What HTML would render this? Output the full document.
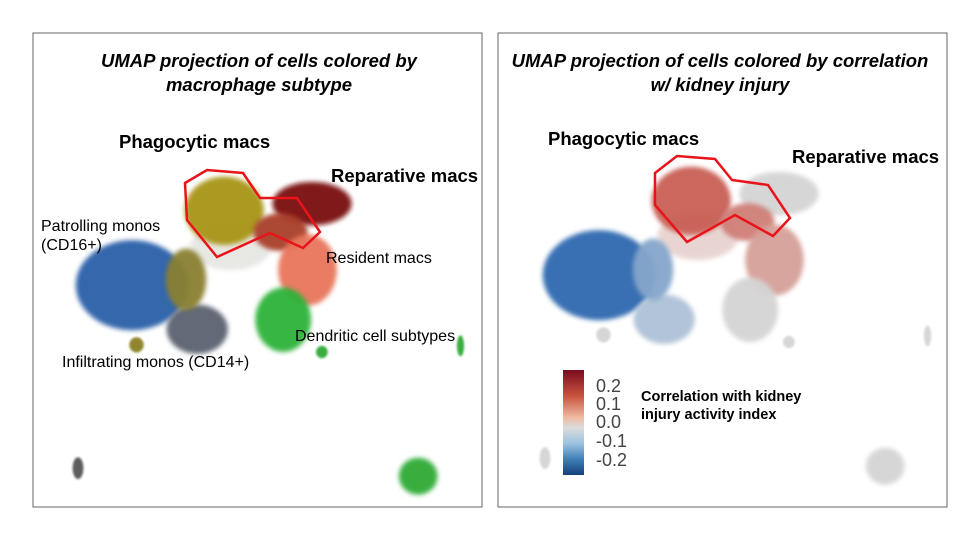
<!DOCTYPE html>
<html><head><meta charset="utf-8">
<style>
body{margin:0;background:#fff;width:960px;height:540px;overflow:hidden;font-family:"Liberation Sans",Arial,sans-serif}
svg{position:absolute;left:0;top:0}
</style></head>
<body>
<svg id="chart" width="960" height="540">
<defs>
<filter id="bl" x="-50%" y="-50%" width="200%" height="200%"><feGaussianBlur stdDeviation="2.5"/></filter>
<filter id="bl2" x="-50%" y="-50%" width="200%" height="200%"><feGaussianBlur stdDeviation="1"/></filter>
<linearGradient id="cb" x1="0" y1="0" x2="0" y2="1">
<stop offset="0" stop-color="#7a0c1e"/><stop offset="0.25" stop-color="#c9543f"/><stop offset="0.45" stop-color="#f0b9a0"/>
<stop offset="0.55" stop-color="#dcdcdc"/><stop offset="0.7" stop-color="#9cc3df"/><stop offset="0.85" stop-color="#3f7fb8"/><stop offset="1" stop-color="#163f78"/>
</linearGradient>
</defs>
<rect x="33" y="33" width="449" height="474" fill="#fff" stroke="#666" stroke-width="1"/>
<rect x="498" y="33" width="449" height="474" fill="#fff" stroke="#666" stroke-width="1"/>
<g id="left"></g>
<g id="right"></g>
<polygon points="185,183 207,170 243,173 260,198 297,198 320,232 303,248 270,233 217,257 187,220" fill="none" stroke="#e8141a" stroke-width="2.5"/>
<polygon points="655,173 677,156 715,159 732,180 768,185 790,218 773,236 735,215 687,242 655,205" fill="none" stroke="#e8141a" stroke-width="2.5"/>
<text x="259" y="67" text-anchor="middle" font-size="18.5" font-weight="bold" font-style="italic">UMAP projection of cells colored by</text>
<text x="259" y="91" text-anchor="middle" font-size="18.5" font-weight="bold" font-style="italic">macrophage subtype</text>
<text x="720" y="67" text-anchor="middle" font-size="18.5" font-weight="bold" font-style="italic">UMAP projection of cells colored by correlation</text>
<text x="720" y="91" text-anchor="middle" font-size="18.5" font-weight="bold" font-style="italic">w/ kidney injury</text>
<text x="119" y="148" font-size="18.5" font-weight="bold">Phagocytic macs</text>
<text x="331" y="182" font-size="18.5" font-weight="bold">Reparative macs</text>
<text x="41" y="231" font-size="16">Patrolling  monos</text>
<text x="41" y="250" font-size="16">(CD16+)</text>
<text x="326" y="263" font-size="16">Resident macs</text>
<text x="295" y="341" font-size="16">Dendritic cell subtypes</text>
<text x="62" y="367" font-size="16">Infiltrating monos (CD14+)</text>
<text x="548" y="145" font-size="18.5" font-weight="bold">Phagocytic macs</text>
<text x="792" y="163" font-size="18.5" font-weight="bold">Reparative macs</text>
<rect x="563" y="370" width="21" height="105" fill="url(#cb)"/>
<g font-size="18" fill="#444">
<text x="596" y="392">0.2</text><text x="596" y="410">0.1</text><text x="596" y="428">0.0</text><text x="596" y="447">-0.1</text><text x="596" y="466">-0.2</text>
</g>
<text x="641" y="401" font-size="14.5" font-weight="bold">Correlation with kidney</text>
<text x="641" y="419" font-size="14.5" font-weight="bold">injury activity index</text>
</svg>
<script>
// cluster data in UMAP units (0-100)
const clusterNames=["bridge","patrolling","phagocytic","reparative","transition","resident","dendritic","infiltrating","patrolling-olive","island-grey","island-green","dc-small","olive-small","dc-far"];
const umapX=[44,22,42.5,62,55,61,55.6,36.5,34,10,85.6,64.2,23,95];
const umapY=[45,53.2,37.5,36,42,50,60.5,62.5,52,91.8,93.5,67.3,65.8,66];
const spreadX=[9,12.5,8.8,8.8,6,6.5,6.2,6.8,4.5,1.2,4.3,1.3,1.6,0.8];
const spreadY=[5,9.5,7.2,4.6,4,7.5,6.8,5.2,6.5,2.3,3.9,1.3,1.6,2.2];
const subtypeColor=["#8a8a7a","#2a5ea8","#a89414","#7a0f0f","#a8402c","#e8765a","#2eb33a","#5a6270","#8a8030","#555","#2eaa36","#2eaa36","#8a8020","#2eaa36"];
const correlation=[0.03,-0.2,0.17,0,0.12,0.07,0,-0.04,-0.09,0,0,0,0,0];
const svgNS="http://www.w3.org/2000/svg";
function sx(u,off){return off+u*4.5;}
function sy(u,off){return off+u*4.74;}
function corrColor(v){
  if(Math.abs(v)<0.01) return "#d4d4d4";
  if(v>0){const t=Math.min(v/0.2,1);return `rgb(${Math.round(222-25*t)},${Math.round(205-130*t)},${Math.round(200-135*t)})`;}
  const t=Math.min(-v/0.2,1);return `rgb(${Math.round(205-160*t)},${Math.round(215-110*t)},${Math.round(225-50*t)})`;
}
function draw(gid,ox,oy,colorFn,op){
  const g=document.getElementById(gid);
  clusterNames.forEach((n,i)=>{
    const e=document.createElementNS(svgNS,"ellipse");
    
    
    e.setAttribute("cx",sx(umapX[i],ox));e.setAttribute("cy",sy(umapY[i],oy));
    e.setAttribute("rx",spreadX[i]*4.5);e.setAttribute("ry",spreadY[i]*4.74);
    e.setAttribute("fill",colorFn(i));
    e.setAttribute("filter",spreadX[i]>2?"url(#bl)":"url(#bl2)");
    e.setAttribute("opacity",i===0?op:"0.95");
    g.appendChild(e);
  });
}
draw("left",33,33,i=>subtypeColor[i],"0.2");
draw("right",500,23,i=>corrColor(correlation[i]),"0.6");
</script>
</body></html>
